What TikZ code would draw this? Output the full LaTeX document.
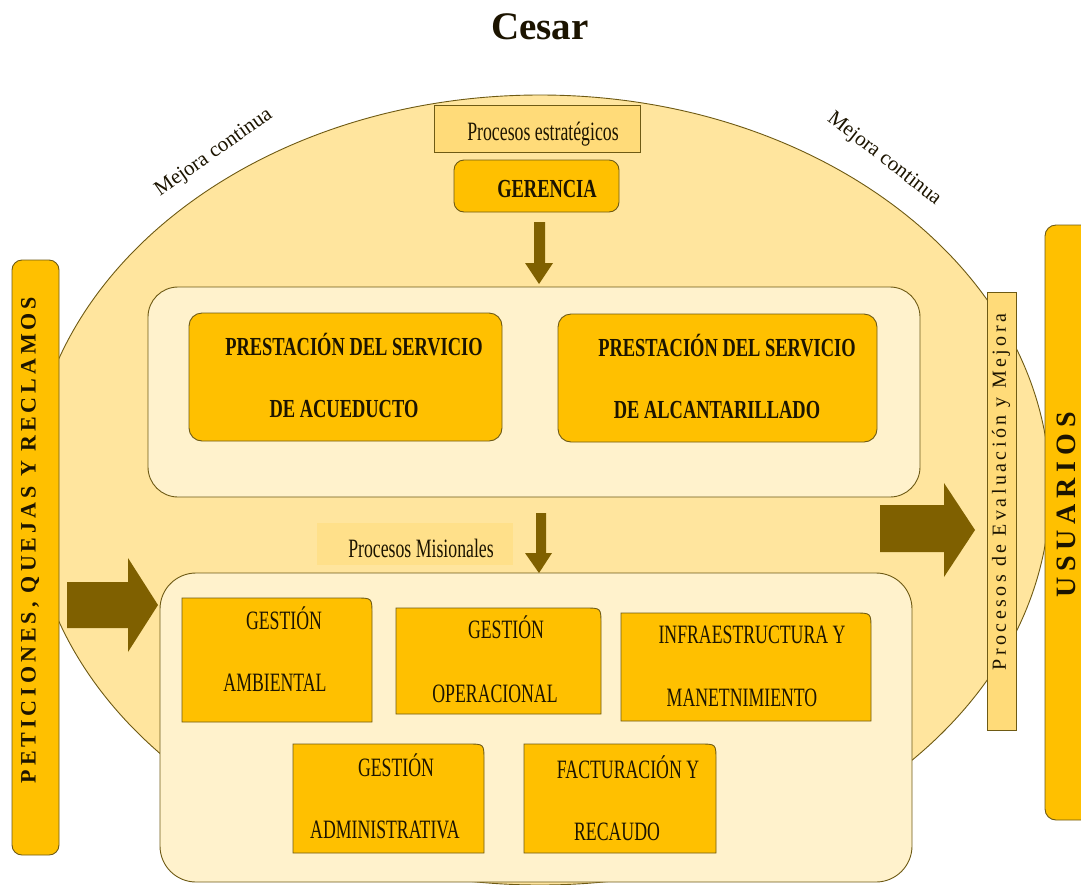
\documentclass[tikz,border=0pt]{standalone}
\usepackage{fontspec}
\setmainfont{Liberation Serif}
\newfontfamily\cnd[FakeStretch=0.71]{Liberation Serif}
\newfontfamily\cndr[FakeStretch=0.67]{Liberation Serif}
\newfontfamily\spq[LetterSpace=18]{Liberation Serif}
\newfontfamily\spu[LetterSpace=21]{Liberation Serif}
\newfontfamily\spe[LetterSpace=17]{Liberation Serif}
\definecolor{ellc}{HTML}{FFE59E}
\definecolor{cream}{HTML}{FFF2CC}
\definecolor{gold}{HTML}{FFC000}
\definecolor{brn}{HTML}{7F6000}
\definecolor{lbl}{HTML}{FFDB79}
\definecolor{lblm}{HTML}{FFE08A}
\definecolor{edge}{HTML}{6E5A14}
\definecolor{ink}{HTML}{1C1400}
\tikzset{
  outl/.style={draw=edge, line width=0.9pt},
  ellshape/.style={outl, fill=ellc},
  cont/.style={outl, fill=cream, rounded corners=30pt},
  gbox/.style={outl, fill=gold, rounded corners=13pt},
  gone/.style={outl, fill=gold},
  lblbox/.style={outl, fill=lbl},
  barr/.style={fill=brn},
  txt/.style={text=ink, inner sep=0pt, anchor=base},
  btxt/.style={txt, font=\cnd\bfseries\fontsize{26}{30}\selectfont},
  rtxt/.style={txt, font=\cndr\fontsize{26.5}{30}\selectfont},
  mtxt/.style={text=ink, inner sep=0pt, font=\fontsize{21}{24}\selectfont},
}
\begin{document}
\begin{tikzpicture}[x=1pt,y=-1pt]
\useasboundingbox (0,0) rectangle (1081,884);
\clip (0,0) rectangle (1081,884);

% title
\node[txt, font=\bfseries\fontsize{39}{42}\selectfont] (title) at (540,39) {Cesar};

% big ellipse
\draw[ellshape] (540,490) ellipse [x radius=510, y radius=395];

% Mejora continua labels
\node[mtxt, rotate=35] (mc1) at (214,153) {Mejora continua};
\node[mtxt, rotate=-38] (mc2) at (884,159) {Mejora continua};

% Procesos estrategicos + Gerencia
\draw[lblbox] (434,105) rectangle (640,152);
\node[rtxt] (pest) at (543,140) {Procesos estratégicos};
\draw[gbox, rounded corners=10pt] (454,160) rectangle (619,212);
\node[btxt] (ger) at (547,197) {GERENCIA};

% arrow 1
\fill[barr] (534,222) -- (545,222) -- (545,263) -- (553,263) -- (539,284) -- (525,263) -- (534,263) -- cycle;

% upper container
\draw[cont] (148,287) rectangle (920,497);
\draw[gbox] (189,313) rectangle (502,441);
\node[btxt] (acu1) at (354,355) {PRESTACIÓN DEL SERVICIO};
\node[btxt] (acu2) at (344,417) {DE ACUEDUCTO};
\draw[gbox] (558,314) rectangle (877,442);
\node[btxt] (alc1) at (727,356) {PRESTACIÓN DEL SERVICIO};
\node[btxt] (alc2) at (717,418) {DE ALCANTARILLADO};

% Procesos misionales + arrow 2
\fill[lblm] (317,523) rectangle (513,565);
\node[rtxt] (pmis) at (421,557) {Procesos Misionales};
\fill[barr] (536,513) -- (546,513) -- (546,553) -- (552,553) -- (539,573) -- (525,553) -- (536,553) -- cycle;

% lower container
\draw[cont, rounded corners=36pt] (160,573) rectangle (912,882);

% one-corner boxes
\draw[gone] (182,722) -- (182,598) -- (356,598) .. controls (372,598) .. (372,614) -- (372,722) -- cycle;
\node[rtxt] (amb1) at (284,629) {GESTIÓN};
\node[rtxt] (amb2) at (275,691) {AMBIENTAL};

\draw[gone] (396,714) -- (396,608) -- (585,608) .. controls (601,608) .. (601,624) -- (601,714) -- cycle;
\node[rtxt] (ope1) at (506,638) {GESTIÓN};
\node[rtxt] (ope2) at (495,702) {OPERACIONAL};

\draw[gone] (621,721) -- (621,613) -- (855,613) .. controls (871,613) .. (871,629) -- (871,721) -- cycle;
\node[rtxt] (inf1) at (752,643) {INFRAESTRUCTURA Y};
\node[rtxt] (inf2) at (742,706) {MANETNIMIENTO};

\draw[gone] (293,853) -- (293,744) -- (468,744) .. controls (484,744) .. (484,760) -- (484,853) -- cycle;
\node[rtxt] (adm1) at (396,776) {GESTIÓN};
\node[rtxt] (adm2) at (385,838) {ADMINISTRATIVA};

\draw[gone] (524,853) -- (524,744) -- (700,744) .. controls (716,744) .. (716,760) -- (716,853) -- cycle;
\node[rtxt] (fac1) at (628,778) {FACTURACIÓN Y};
\node[rtxt] (fac2) at (617,840) {RECAUDO};

% left and right block arrows
\fill[barr] (67,582) -- (128,582) -- (128,558) -- (158,605) -- (128,652) -- (128,628) -- (67,628) -- cycle;
\fill[barr] (880,505) -- (944,505) -- (944,483) -- (975,530) -- (944,577) -- (944,552) -- (880,552) -- cycle;

% evaluation bar
\draw[lblbox] (987,292) rectangle (1016,730);
\node[text=ink, inner sep=0pt, rotate=90, font=\spe\fontsize{20}{24}\selectfont] (eval) at (1001,492) {Procesos de Evaluación y Mejora};

% usuarios
\draw[gbox, rounded corners=11pt] (1045,225) rectangle (1110,820);
\node[text=ink, inner sep=0pt, rotate=90, font=\spu\bfseries\fontsize{28}{32}\selectfont] (usu) at (1066,505) {USUARIOS};

% PQR
\draw[gbox, rounded corners=10pt] (12,260) rectangle (59,855);
\node[text=ink, inner sep=0pt, rotate=90, font=\spq\bfseries\fontsize{22}{26}\selectfont] (pqr) at (30,540) {PETICIONES, QUEJAS Y RECLAMOS};
\end{tikzpicture}
\end{document}
